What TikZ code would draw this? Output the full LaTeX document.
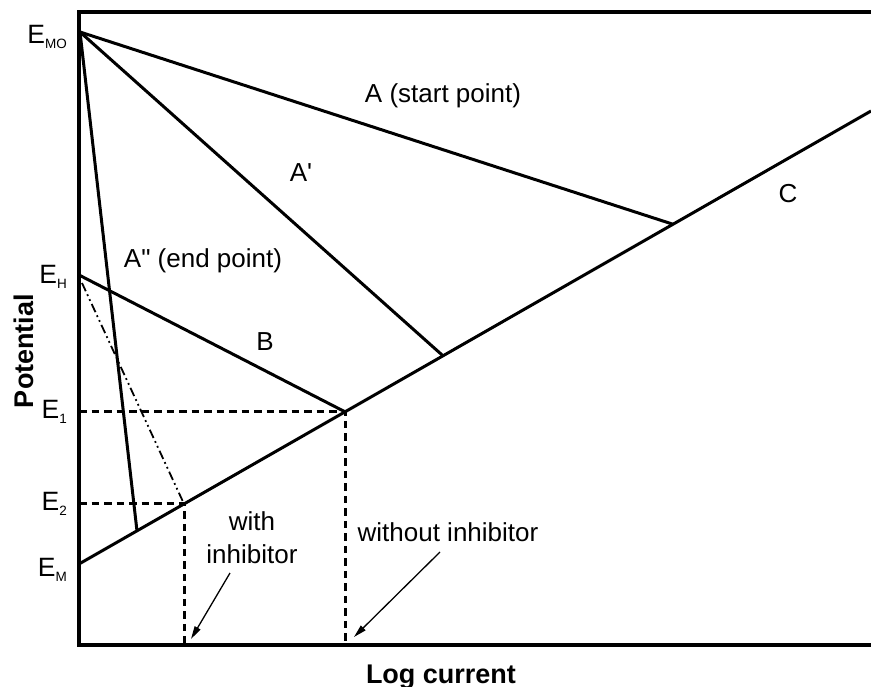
\documentclass[tikz,border=0pt]{standalone}
\usepackage{fontspec}
\setmainfont{Liberation Sans}[Ligatures=TeXOff]
\usetikzlibrary{calc,arrows.meta}
\newcommand\lowsub[1]{\raisebox{-5pt}{\fontsize{13.5}{13.5}\selectfont #1}}
\begin{document}
\begin{tikzpicture}[x=1pt,y=-1pt,
  axis/.style={line width=3.4pt,line join=miter},
  curve/.style={line width=3pt},
  guide/.style={line width=3pt,dash pattern=on 7.5pt off 5pt},
  dashdot/.style={line width=1.8pt,dash pattern=on 9pt off 3.5pt on 1.8pt off 3.5pt on 1.8pt off 3.5pt},
  pointer/.style={line width=1.3pt,-{Triangle[length=13pt,width=6.5pt]}},
  lbl/.style={font=\fontsize{26}{30}\selectfont,anchor=base,inner sep=0pt},
  elbl/.style={font=\fontsize{26.5}{30}\selectfont,anchor=base east,inner sep=0pt},
  bold/.style={font=\fontsize{27}{30}\selectfont\bfseries,inner sep=0pt,anchor=base},
]
\useasboundingbox (0,0) rectangle (871,687);
% frame
\coordinate (TL) at (79,12);
\coordinate (TR) at (871,12);
\coordinate (BL) at (79,645);
\coordinate (BR) at (871,645);
% key points
\coordinate (EMO) at (80,32);
\coordinate (EM) at (79,564);
\coordinate (Cend) at (871,111);
\coordinate (EH) at (79,275);
\coordinate (PA) at ($(EM)!0.75!(Cend)$);
\coordinate (PA1) at ($(EM)!0.4596!(Cend)$);
\coordinate (PA2) at ($(EM)!0.0732!(Cend)$);
\coordinate (P1) at ($(EM)!0.3359!(Cend)$);
\coordinate (P2) at ($(EM)!0.1326!(Cend)$);
\coordinate (DD) at (82,283);
\coordinate (E1L) at (EM |- P1);
\coordinate (E2L) at (EM |- P2);
\coordinate (P1B) at (P1 |- BL);
\coordinate (P2B) at (P2 |- BL);
\coordinate (wA) at (230,573);
\coordinate (wB) at (191,639);
\coordinate (woA) at (440,552);
\coordinate (woB) at (354,637);

\draw[axis] (TR) -- (TL) -- (BL) -- (BR);
\draw[curve] (EM) -- (Cend);
\draw[curve] (EMO) -- (PA);
\draw[curve] (EMO) -- (PA1);
\draw[curve] (EMO) -- (PA2);
\draw[curve] (EH) -- (P1);
\draw[guide] (E1L) -- (P1) -- (P1B);
\draw[guide] (E2L) -- (P2) -- (P2B);
\draw[dashdot] (DD) -- (P2);
\draw[pointer] (wA) -- (wB);
\draw[pointer] (woA) -- (woB);

\node[lbl] (lA) at (443,103) {A (start point)};
\node[lbl] (lA1) at (301,182) {A'};
\node[lbl] (lA2) at (203,268) {A" (end point)};
\node[lbl] (lB) at (265,351) {B};
\node[lbl] (lC) at (788,203) {C};
\node[lbl] (lwith) at (252,530) {with};
\node[lbl] (linh) at (252,563) {inhibitor};
\node[lbl] (lwo) at (448,541) {without inhibitor};

\node[elbl] (lEMO) at (67,44) {E\lowsub{MO}};
\node[elbl] (lEH) at (67,284) {E\lowsub{H}};
\node[elbl] (lE1) at (67,418) {E\lowsub{1}};
\node[elbl] (lE2) at (67,510) {E\lowsub{2}};
\node[elbl] (lEM) at (67,576) {E\lowsub{M}};

\node[bold,rotate=90] (lpot) at (33,351) {Potential};
\node[bold] (llog) at (441,683) {Log current};
\end{tikzpicture}
\end{document}
